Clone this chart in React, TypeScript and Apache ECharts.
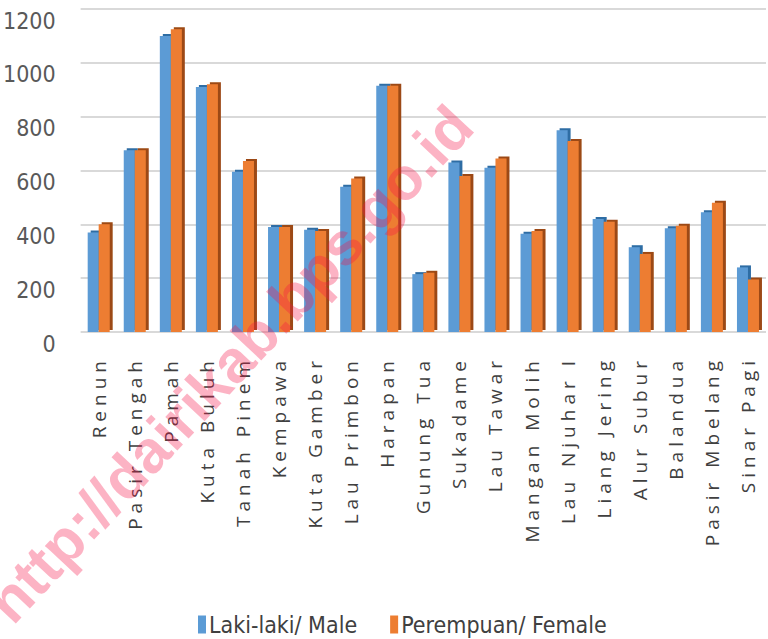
import React, { useEffect, useRef } from "react";
import * as echarts from "echarts";

const categories = [
  "Renun", "Pasir Tengah", "Pamah", "Kuta Buluh", "Tanah Pinem", "Kempawa",
  "Kuta Gamber", "Lau Primbon", "Harapan", "Gunung Tua", "Sukadame", "Lau Tawar",
  "Mangan Molih", "Lau Njuhar I", "Liang Jering", "Alur Subur", "Balandua",
  "Pasir Mbelang", "Sinar Pagi",
];
const male = [370, 675, 1100, 910, 595, 390, 380, 540, 915, 215, 630, 610, 365, 750, 420, 315, 385, 445, 240];
const female = [400, 675, 1125, 920, 635, 390, 375, 570, 915, 220, 580, 645, 375, 710, 410, 290, 395, 480, 195];
const yTicks = [0, 200, 400, 600, 800, 1000, 1200];
const seriesNames = ["Laki-laki/ Male", "Perempuan/ Female"];

const css = `
.chartbox svg text[transform^="matrix(0,-1,1,0"] { letter-spacing: 5px; }
`;

export default function App() {
  const ref = useRef<HTMLDivElement>(null);
  useEffect(() => {
    if (!ref.current) return;
    const chart = echarts.init(ref.current, null, { renderer: "svg" });
    const ang = (47 * Math.PI) / 180;
    chart.setOption({
      animation: false,
      backgroundColor: "#ffffff",
      grid: { left: 79, right: 2, top: 9, bottom: 307, containLabel: false },
      legend: {
        top: 608,
        left: 193,
        itemWidth: 8,
        itemHeight: 18,
        itemGap: 33,
        icon: "rect",
        textStyle: { fontFamily: "DejaVu Sans Condensed", fontSize: 23, color: "#404040", padding: [0, 0, 0, -2] },
        data: seriesNames,
      },
      xAxis: {
        type: "category",
        data: categories,
        axisLine: { show: false },
        axisTick: { show: false },
        axisLabel: {
          rotate: 90,
          interval: 0,
          margin: 24,
          fontFamily: "Open Sans",
          fontSize: 19,
          color: "#404040",
        },
      },
      yAxis: {
        type: "value",
        min: yTicks[0],
        max: yTicks[yTicks.length - 1],
        interval: 200,
        axisLine: { show: false },
        axisTick: { show: false },
        axisLabel: {
          margin: 25,
          fontFamily: "DejaVu Sans Condensed",
          fontSize: 23,
          color: "#595959",
          verticalAlign: "top",
          formatter: (v: number) => String(v),
        },
        splitLine: { lineStyle: { color: "#d9d9d9", width: 2 } },
      },
      series: [
        {
          name: seriesNames[0],
          type: "bar",
          data: male,
          barWidth: 11,
          barGap: "0%",
          itemStyle: { color: "#5B9BD5", shadowColor: "#2e6da4", shadowOffsetX: 3, shadowOffsetY: -2, shadowBlur: 0 },
        },
        {
          name: seriesNames[1],
          type: "bar",
          data: female,
          barWidth: 11,
          barGap: "0%",
          itemStyle: { color: "#ED7D31", shadowColor: "#9c4a14", shadowOffsetX: 3, shadowOffsetY: -2, shadowBlur: 0 },
        },
      ],
      graphic: [
        {
          type: "text",
          x: 20,
          y: 633,
          rotation: ang,
          silent: true,
          z: 100,
          style: {
            text: "http://dairikab.bps.go.id",
            fontFamily: "Liberation Sans",
            fontWeight: "bold",
            fontSize: 60,
            fill: "rgba(245, 20, 70, 0.32)",
            textVerticalAlign: "bottom",
          },
        },
      ],
    });
    return () => chart.dispose();
  }, []);
  return (
    <>
      <style>{css}</style>
      <div
        ref={ref}
        className="chartbox"
        style={{ position: "fixed", left: 0, top: 0, width: 768, height: 639 }}
      />
    </>
  );
}
